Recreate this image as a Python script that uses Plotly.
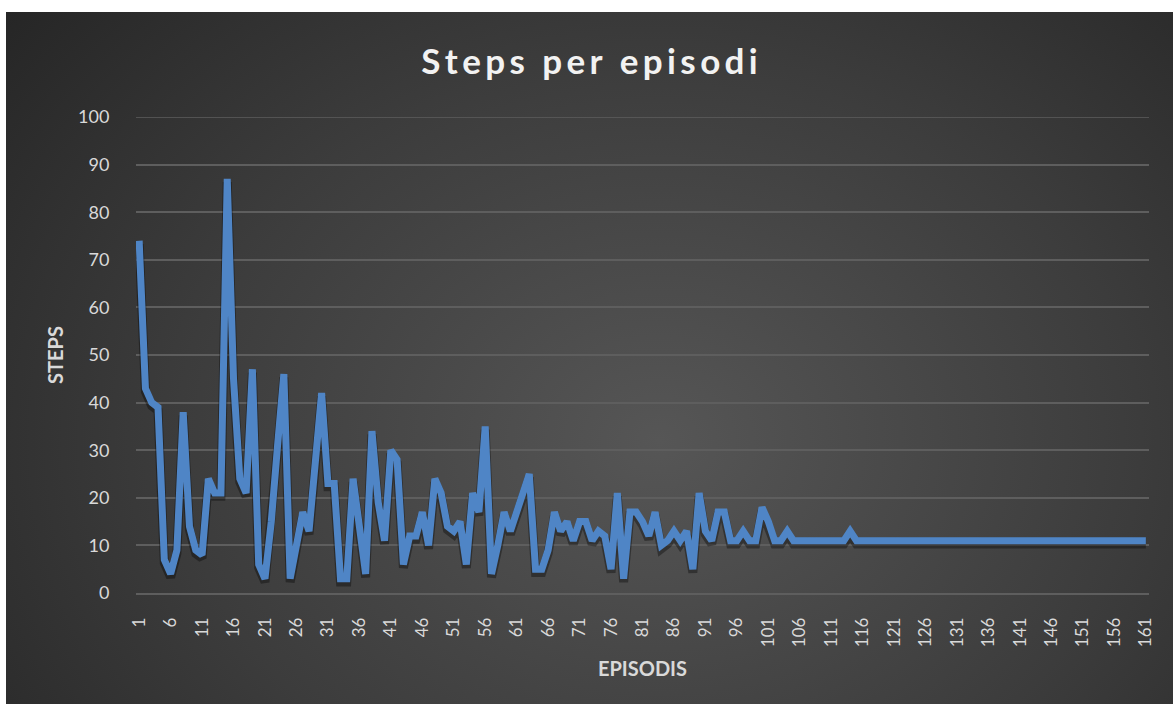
import base64
import plotly.graph_objects as go

# Steps needed to finish each training episode
episodes = list(range(1, 162))
steps = [
    74, 43, 40, 39, 7, 4, 9, 38, 14, 9,
    8, 24, 21, 21, 87, 45, 24, 21, 47, 6,
    3, 15, 31, 46, 3, 10, 17, 13, 28, 42,
    23, 23, 3, 3, 24, 13, 4, 34, 19, 11,
    30, 28, 6, 12, 12, 17, 10, 24, 21, 14,
    13, 15, 6, 21, 17, 35, 4, 10, 17, 13,
    17, 21, 25, 5, 5, 9, 17, 13, 15, 11,
    15, 15, 11, 13, 12, 5, 21, 3, 17, 17,
    15, 12, 17, 10, 11, 13, 11, 13, 5, 21,
    13, 11, 17, 17, 11, 11, 13, 11, 11, 18,
    15, 11, 11, 13, 11, 11, 11, 11, 11, 11,
    11, 11, 11, 13, 11, 11, 11, 11, 11, 11,
    11, 11, 11, 11, 11, 11, 11, 11, 11, 11,
    11, 11, 11, 11, 11, 11, 11, 11, 11, 11,
    11, 11, 11, 11, 11, 11, 11, 11, 11, 11,
    11, 11, 11, 11, 11, 11, 11, 11, 11, 11,
    11,
]
x_tickvals = list(range(1, 162, 5))
x_ticktext = [str(v) for v in x_tickvals]
y_tickvals = list(range(0, 101, 10))

chart_title = "Steps per episodi"
x_title = "EPISODIS"
y_title = "STEPS"


def spaced(text, gap="\u200a\u200a"):
    """Widen the tracking of a label by putting hair spaces between letters."""
    return gap.join(text)


W, H = 1173, 706
L, R, T, B = 136, 24, 117, 113
plot_w = W - L - R
plot_h = H - T - B

# Dark radial-gradient panel behind the chart
svg = (
    '<svg xmlns="http://www.w3.org/2000/svg" width="1167" height="692" '
    'preserveAspectRatio="none">'
    '<defs><radialGradient id="g" cx="0.56" cy="0.62" r="0.75" '
    'gradientTransform="translate(0.56 0.62) scale(1 1.35) translate(-0.56 -0.62)">'
    '<stop offset="0" stop-color="#565656"/>'
    '<stop offset="0.55" stop-color="#3c3c3c"/>'
    '<stop offset="1" stop-color="#242424"/>'
    '</radialGradient></defs>'
    '<rect width="1167" height="692" fill="url(#g)"/></svg>'
)
bg_src = "data:image/svg+xml;base64," + base64.b64encode(svg.encode()).decode()

panel_x0, panel_y0, panel_x1, panel_y1 = 6, 12, 1173, 704
grid_color = "#5e5e5e"

fig = go.Figure()

# soft drop shadow under the series line
fig.add_trace(go.Scatter(
    x=episodes, y=[v - 0.7 for v in steps], mode="lines",
    line=dict(color="rgba(0,0,0,0.35)", width=9),
    hoverinfo="skip", showlegend=False,
))
fig.add_trace(go.Scatter(
    x=episodes, y=steps, mode="lines",
    line=dict(color="#4f85c6", width=7),
    name="Steps", showlegend=False,
))

fig.update_layout(
    width=W, height=H,
    margin=dict(l=L, r=R, t=T, b=B, pad=0),
    paper_bgcolor="white",
    plot_bgcolor="rgba(0,0,0,0)",
    font=dict(family="Lato, Open Sans, sans-serif", color="#d9d9d9"),
    title=dict(
        text="<b>" + spaced(chart_title) + "</b>",
        font=dict(size=35, color="#f2f2f2", family="Lato, Open Sans, sans-serif"),
        x=589.5 / W, xanchor="center", xref="container",
        y=1 - 62 / H, yanchor="middle", yref="container",
    ),
    images=[dict(
        source=bg_src, xref="paper", yref="paper",
        x=(panel_x0 - L) / plot_w, y=(H - B - panel_y0) / plot_h,
        sizex=(panel_x1 - panel_x0) / plot_w, sizey=(panel_y1 - panel_y0) / plot_h,
        xanchor="left", yanchor="top", sizing="stretch", layer="below",
    )],
    # top gridline at the upper edge of the value axis
    shapes=[dict(
        type="line", xref="paper", x0=0, x1=1, yref="y", y0=100, y1=100,
        line=dict(color=grid_color, width=1.5), layer="below",
    )],
    xaxis=dict(
        range=[0.5, 161.5], tickmode="array",
        tickvals=x_tickvals, ticktext=x_ticktext, tickangle=-90,
        ticks="outside", ticklen=16, tickcolor="rgba(0,0,0,0)",
        tickfont=dict(size=17, color="#d9d9d9"),
        showgrid=False, zeroline=False,
        showline=True, linecolor=grid_color, linewidth=1.5,
        title=dict(text="<b>" + x_title + "</b>",
                   font=dict(size=20, color="#d9d9d9"), standoff=16),
    ),
    yaxis=dict(
        range=[0, 100], tickmode="array", tickvals=y_tickvals,
        ticks="outside", ticklen=22, tickcolor="rgba(0,0,0,0)",
        tickfont=dict(size=18, color="#d9d9d9"),
        showgrid=True, gridcolor=grid_color, gridwidth=1.5,
        zeroline=False, showline=False,
        title=dict(text="<b>" + y_title + "</b>",
                   font=dict(size=20, color="#d9d9d9"), standoff=9),
    ),
)

fig.write_html("out.html")
